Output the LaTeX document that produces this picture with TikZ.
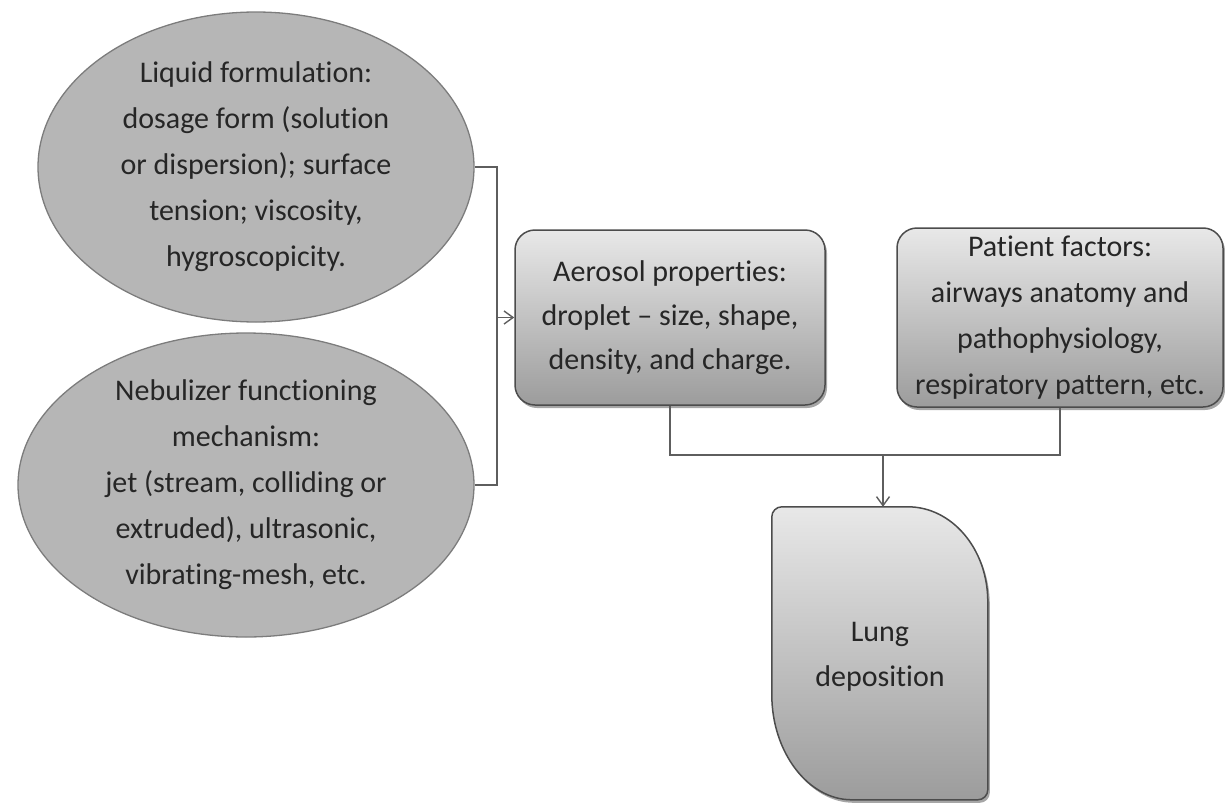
\documentclass[tikz,border=0pt]{standalone}
\usepackage{fontspec}
\setmainfont{Carlito}[Ligatures={NoCommon}]
\usetikzlibrary{shapes.geometric,arrows.meta,shadows,calc}
% keep "t" and "i" as separate glyphs
\newcommand\tisep{t\kern0pt i}
\definecolor{txt}{HTML}{262626}
\definecolor{ellfill}{HTML}{B6B6B6}
\definecolor{ellline}{HTML}{7C7C7C}
\definecolor{boxtop}{HTML}{E8E8E8}
\definecolor{boxbot}{HTML}{9C9C9C}
\definecolor{boxline}{HTML}{4C4C4C}
\definecolor{wire}{HTML}{5E5E5E}
\tikzset{
  every node/.style={text=txt, align=center, inner sep=0pt,
    font=\fontsize{30}{46}\selectfont},
  factor/.style={ellipse, fill=ellfill, draw=ellline, line width=1.3pt},
  panel/.style={rectangle, rounded corners=20pt, draw=boxline, line width=1.5pt,
    top color=boxtop, bottom color=boxbot,
    drop shadow={shadow xshift=2pt, shadow yshift=-3pt, opacity=0.35, fill=black}},
  lungbox/.style={draw=boxline, line width=1.5pt, top color=boxtop, bottom color=boxbot,
    drop shadow={shadow xshift=2pt, shadow yshift=-3pt, opacity=0.35, fill=black}},
  wireline/.style={draw=wire, line width=1.4pt},
  feed/.style={wireline, -{Straight Barb[length=9pt,width=13pt,line width=1.4pt]}},
}
\begin{document}
\begin{tikzpicture}[x=1pt,y=-1pt]
\useasboundingbox (0,0) rectangle (1225,803);

% input factors
\node[factor, minimum width=436pt, minimum height=310pt] (liq) at (256,167)
  {Liquid formula\tisep on:\\ dosage form (solu\tisep on\\ or dispersion); surface\\ tension; viscosity,\\ hygroscopicity.};
\node[factor, minimum width=456pt, minimum height=304pt] (neb) at (246,485)
  {Nebulizer func\tisep oning\\ mechanism:\\ jet (stream, colliding or\\ extruded), ultrasonic,\\ vibra\tisep ng-mesh, etc.};

% intermediate boxes
\node[panel, minimum width=310pt, minimum height=175pt,
  font=\fontsize{30}{44}\selectfont] (aer) at (670,317.5)
  {Aerosol proper\tisep es:\\ droplet -- size, shape,\\ density, and charge.};
\node[panel, minimum width=326pt, minimum height=179pt] (pat) at (1060,317.5)
  {Pa\tisep ent factors:\\ airways anatomy and\\ pathophysiology,\\ respiratory pat\kern0pt tern, etc.};

% outcome: rectangle with two large diagonal rounded corners
\node[minimum width=216pt, minimum height=293pt] (lung) at (880,653.5) {};
\begin{scope}[shift={(lung.north west)}]
  \path[lungbox] (0,10) .. controls (0,4.5) and (4.5,0) .. (10,0)
    -- (136,0) .. controls (180,0) and (216,42) .. (216,95)
    -- (216,283) .. controls (216,288.5) and (211.5,293) .. (206,293)
    -- (80,293) .. controls (36,293) and (0,245) .. (0,188) -- cycle;
\end{scope}
\node[font=\fontsize{30}{45}\selectfont] (lungtext) at ([yshift=-3pt]lung.center) {Lung\\ deposi\tisep on};

% connectors
\coordinate (jl) at (497,317.5);
\coordinate (jr) at (883,455);
\draw[wireline] (liq.east) -| (jl);
\draw[wireline] (neb.east) -| (jl);
\draw[feed] (jl) -- (aer.west);
\draw[wireline] (aer.south) |- (jr);
\draw[wireline] (pat.south) |- (jr);
\draw[feed] (jr) -- (jr |- lung.north);
\end{tikzpicture}
\end{document}
